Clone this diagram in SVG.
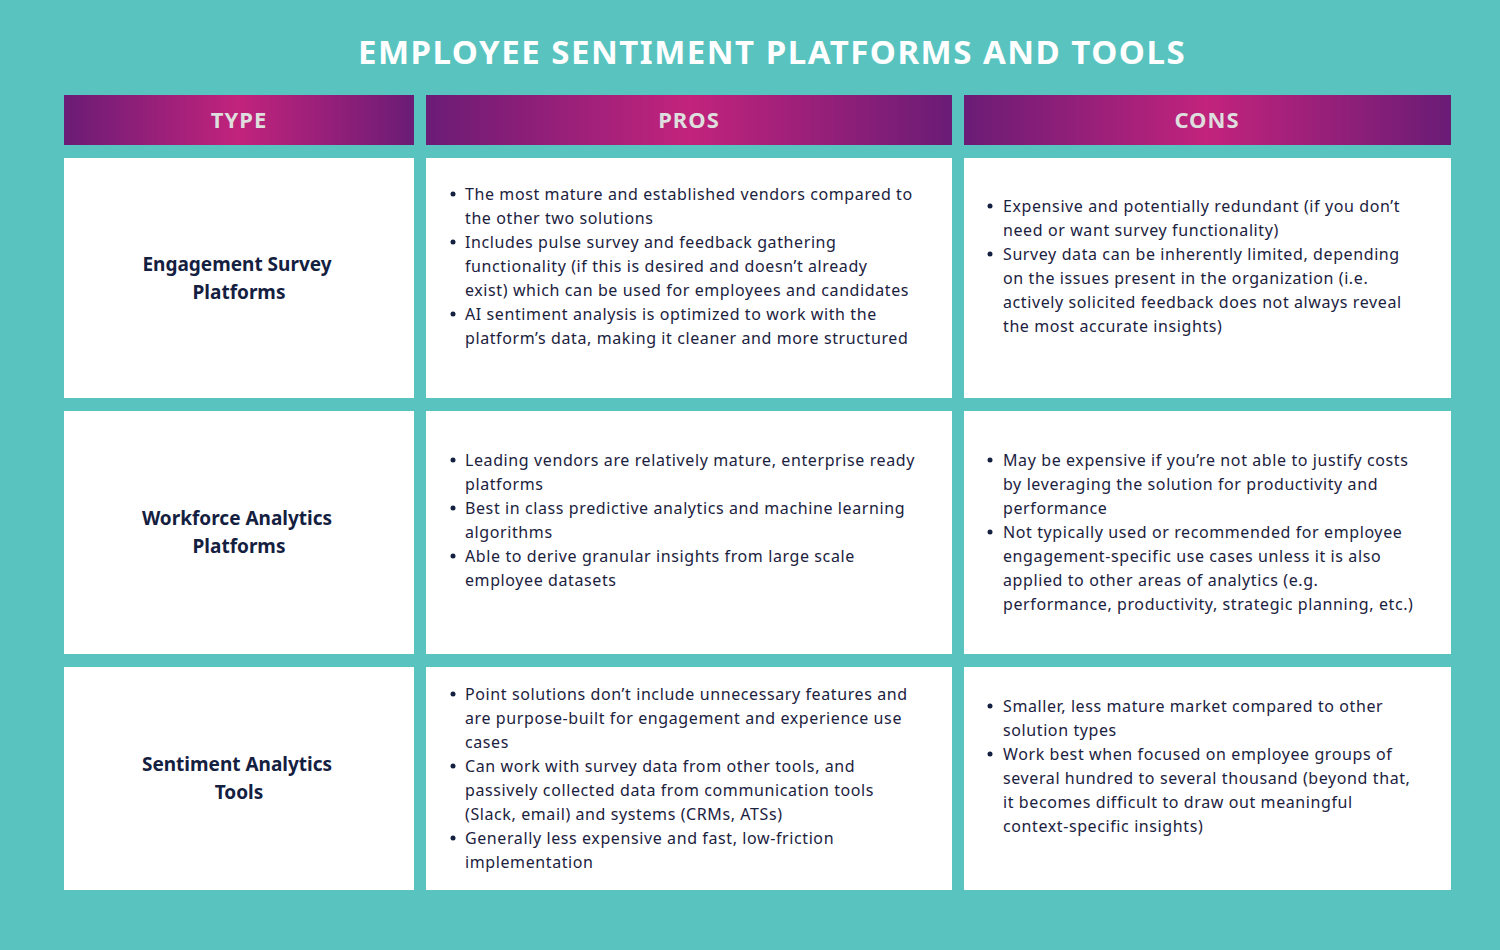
<svg xmlns="http://www.w3.org/2000/svg" width="1500" height="950" viewBox="0 0 1500 950">
<defs>
<linearGradient id="hg" x1="0" x2="1" y1="0" y2="0">
<stop offset="0" stop-color="#6a1c76"/><stop offset="0.5" stop-color="#c2237c"/><stop offset="1" stop-color="#6a1c76"/>
</linearGradient>
<style>
.h{fill:url(#hg)}
.c{fill:#fff}
.ht{font-family:"Noto Sans",sans-serif;font-weight:bold;font-size:22px;fill:#dedede;text-anchor:middle;letter-spacing:1px}
.t{font-family:"Noto Sans",sans-serif;font-size:16px;fill:#1b2240;letter-spacing:0.6px}
.b{font-family:"Noto Sans",sans-serif;font-weight:bold;font-size:19px;fill:#14203f;text-anchor:middle}
.d{fill:#14203f}
</style>
</defs>
<rect width="1500" height="950" fill="#59c4bf"/>
<text x="772" y="64" text-anchor="middle" font-family="Noto Sans,sans-serif" font-weight="bold" font-size="33" fill="#fff" letter-spacing="1.5">EMPLOYEE SENTIMENT PLATFORMS AND TOOLS</text>
<g id="header">
<rect class="h" x="64" y="95" width="350" height="50"/><text class="ht" x="239" y="128">TYPE</text>
<rect class="h" x="426" y="95" width="526" height="50"/><text class="ht" x="689" y="128">PROS</text>
<rect class="h" x="964" y="95" width="487" height="50"/><text class="ht" x="1207" y="128">CONS</text>
</g>
<g id="row1">
<rect class="c" x="64" y="158" width="350" height="240"/>
<rect class="c" x="426" y="158" width="526" height="240"/>
<rect class="c" x="964" y="158" width="487" height="240"/>
<text class="b" x="237" y="271">Engagement Survey</text><text class="b" x="239" y="299">Platforms</text>
<circle class="d" cx="453" cy="194" r="2.5"/><circle class="d" cx="453" cy="242" r="2.5"/><circle class="d" cx="453" cy="314" r="2.5"/>
<text class="t" x="465" y="200">The most mature and established vendors compared to</text>
<text class="t" x="465" y="224">the other two solutions</text>
<text class="t" x="465" y="248">Includes pulse survey and feedback gathering</text>
<text class="t" x="465" y="272">functionality (if this is desired and doesn’t already</text>
<text class="t" x="465" y="296">exist) which can be used for employees and candidates</text>
<text class="t" x="465" y="320">AI sentiment analysis is optimized to work with the</text>
<text class="t" x="465" y="344">platform’s data, making it cleaner and more structured</text>
<circle class="d" cx="990" cy="206" r="2.5"/><circle class="d" cx="990" cy="254" r="2.5"/>
<text class="t" x="1003" y="212">Expensive and potentially redundant (if you don’t</text>
<text class="t" x="1003" y="236">need or want survey functionality)</text>
<text class="t" x="1003" y="260">Survey data can be inherently limited, depending</text>
<text class="t" x="1003" y="284">on the issues present in the organization (i.e.</text>
<text class="t" x="1003" y="308">actively solicited feedback does not always reveal</text>
<text class="t" x="1003" y="332">the most accurate insights)</text>
</g>
<g id="row2">
<rect class="c" x="64" y="411" width="350" height="243"/>
<rect class="c" x="426" y="411" width="526" height="243"/>
<rect class="c" x="964" y="411" width="487" height="243"/>
<text class="b" x="237" y="525">Workforce Analytics</text><text class="b" x="239" y="553">Platforms</text>
<circle class="d" cx="453" cy="460" r="2.5"/><circle class="d" cx="453" cy="508" r="2.5"/><circle class="d" cx="453" cy="556" r="2.5"/>
<text class="t" x="465" y="466">Leading vendors are relatively mature, enterprise ready</text>
<text class="t" x="465" y="490">platforms</text>
<text class="t" x="465" y="514">Best in class predictive analytics and machine learning</text>
<text class="t" x="465" y="538">algorithms</text>
<text class="t" x="465" y="562">Able to derive granular insights from large scale</text>
<text class="t" x="465" y="586">employee datasets</text>
<circle class="d" cx="990" cy="460" r="2.5"/><circle class="d" cx="990" cy="532" r="2.5"/>
<text class="t" x="1003" y="466">May be expensive if you’re not able to justify costs</text>
<text class="t" x="1003" y="490">by leveraging the solution for productivity and</text>
<text class="t" x="1003" y="514">performance</text>
<text class="t" x="1003" y="538">Not typically used or recommended for employee</text>
<text class="t" x="1003" y="562">engagement-specific use cases unless it is also</text>
<text class="t" x="1003" y="586">applied to other areas of analytics (e.g.</text>
<text class="t" x="1003" y="610">performance, productivity, strategic planning, etc.)</text>
</g>
<g id="row3">
<rect class="c" x="64" y="667" width="350" height="223"/>
<rect class="c" x="426" y="667" width="526" height="223"/>
<rect class="c" x="964" y="667" width="487" height="223"/>
<text class="b" x="237" y="771">Sentiment Analytics</text><text class="b" x="239" y="799">Tools</text>
<circle class="d" cx="453" cy="694" r="2.5"/><circle class="d" cx="453" cy="766" r="2.5"/><circle class="d" cx="453" cy="838" r="2.5"/>
<text class="t" x="465" y="700">Point solutions don’t include unnecessary features and</text>
<text class="t" x="465" y="724">are purpose-built for engagement and experience use</text>
<text class="t" x="465" y="748">cases</text>
<text class="t" x="465" y="772">Can work with survey data from other tools, and</text>
<text class="t" x="465" y="796">passively collected data from communication tools</text>
<text class="t" x="465" y="820">(Slack, email) and systems (CRMs, ATSs)</text>
<text class="t" x="465" y="844">Generally less expensive and fast, low-friction</text>
<text class="t" x="465" y="868">implementation</text>
<circle class="d" cx="990" cy="706" r="2.5"/><circle class="d" cx="990" cy="754" r="2.5"/>
<text class="t" x="1003" y="712">Smaller, less mature market compared to other</text>
<text class="t" x="1003" y="736">solution types</text>
<text class="t" x="1003" y="760">Work best when focused on employee groups of</text>
<text class="t" x="1003" y="784">several hundred to several thousand (beyond that,</text>
<text class="t" x="1003" y="808">it becomes difficult to draw out meaningful</text>
<text class="t" x="1003" y="832">context-specific insights)</text>
</g>
</svg>
